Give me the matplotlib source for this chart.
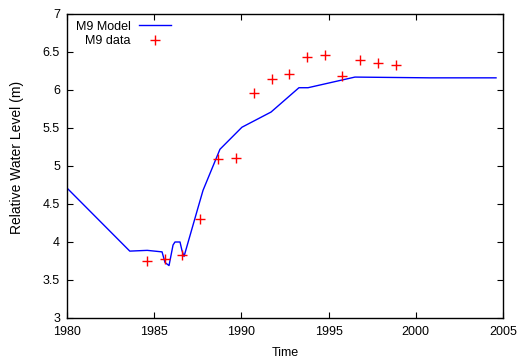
import matplotlib.pyplot as plt
import numpy as np

plt.rcParams['font.family'] = ['Liberation Sans', 'DejaVu Sans']

# model run
model_t = [1980.0, 1983.6, 1984.6, 1985.45, 1985.62, 1985.85, 1986.08, 1986.19,
           1986.48, 1986.59, 1986.71, 1987.51, 1987.8, 1988.77, 1990.03,
           1991.7, 1993.3, 1993.82, 1996.51, 2000.8, 2004.6]
model_h = [4.71, 3.88, 3.89, 3.87, 3.73, 3.69, 3.96, 4.0,
           4.0, 3.89, 3.81, 4.45, 4.68, 5.22, 5.51,
           5.71, 6.03, 6.03, 6.17, 6.16, 6.16]

# observations
obs_t = [1984.6, 1985.6, 1986.6, 1987.65, 1988.68, 1989.69, 1990.72, 1991.74,
         1992.75, 1993.74, 1994.79, 1995.79, 1996.8, 1997.85, 1998.86]
obs_h = [3.75, 3.78, 3.83, 4.30, 5.09, 5.11, 5.96, 6.15,
         6.21, 6.43, 6.46, 6.19, 6.40, 6.36, 6.33]

fig = plt.figure(figsize=(5.31, 3.62), dpi=100)
ax = fig.add_axes([67/531, 1-318/362, 436/531, 304/362])

ax.plot(model_t, model_h, color='#0000ff', lw=1.0, label='M9 Model')
ax.plot(obs_t, obs_h, ls='none', marker='+', ms=7, mew=1.0, color='red', label='M9 data')

ax.set_xlim(1980, 2005)
ax.set_ylim(3, 7)
ax.set_xticks(np.arange(1980, 2006, 5))
ax.set_yticks(np.arange(3, 7.01, 0.5))
ax.set_yticklabels(['3', '3.5', '4', '4.5', '5', '5.5', '6', '6.5', '7'])
ax.tick_params(direction='in', top=True, right=True, length=4, width=0.8,
               labelsize=9)
ax.tick_params(axis='x', pad=6)
ax.tick_params(axis='y', pad=5)
for s in ax.spines.values():
    s.set_linewidth(1.0)

ax.set_xlabel('Time', fontsize=9)
ax.xaxis.set_label_coords(0.5, -(353 - 318) / 304, transform=ax.transAxes)
ax.xaxis.label.set_va('center')
ax.set_ylabel('Relative Water Level (m)', fontsize=10)
ax.yaxis.set_label_coords(-(67 - 17) / 436, (318 - 157) / 304, transform=ax.transAxes)
ax.yaxis.label.set_va('center')

# gnuplot-style key: labels right-aligned, sample to the right
ax.legend(loc='upper left', bbox_to_anchor=(0.02, 0.978), frameon=False,
          markerfirst=False, fontsize=9, handlelength=2.56, handletextpad=0.64,
          borderaxespad=0, borderpad=0, labelspacing=0.2)

fig.savefig('out.png', dpi=100)
